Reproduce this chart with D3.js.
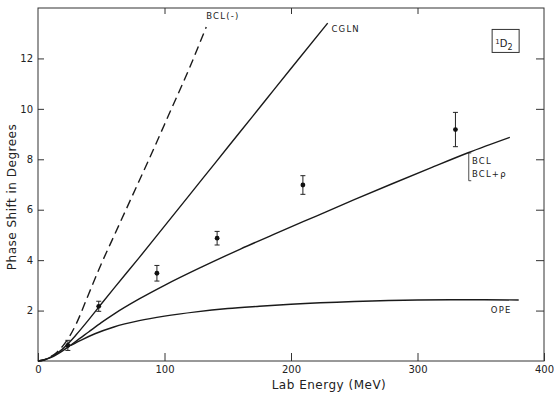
<!DOCTYPE html>
<html>
<head>
<meta charset="utf-8">
<script src="https://cdn.jsdelivr.net/npm/d3@7"></script>
<style>
  body { margin: 0; background: #fff; }
  svg { display: block; }
  text { font-family: "DejaVu Sans", sans-serif; fill: #222; }
  .axis path, .axis line { stroke: #333; stroke-width: 1; }
  .axis text { font-size: 10px; }
</style>
</head>
<body>
<svg id="chart"></svg>
<script>
var width = 554,
    height = 396;

// curves: lab energy (MeV) / phase shift (deg)
var bclMinusE = [0, 5, 10, 15, 20, 25, 30, 40, 50, 60, 75, 90, 105, 120, 133];
var bclMinusP = [0, 0.05, 0.17, 0.35, 0.62, 0.98, 1.45, 2.65, 3.85, 4.95, 6.6, 8.25, 9.95, 11.65, 13.25];

var cglnE = [0, 5, 10, 15, 20, 25, 30, 40, 50, 60, 80, 100, 120, 140, 160, 180, 200, 229];
var cglnP = [0, 0.05, 0.15, 0.3, 0.5, 0.75, 1.03, 1.63, 2.26, 2.88, 4.1, 5.35, 6.6, 7.85, 9.1, 10.35, 11.6, 13.4];

var bclE = [0, 5, 10, 15, 20, 25, 30, 40, 50, 60, 80, 100, 130, 160, 190, 220, 250, 280, 310, 340, 373];
var bclP = [0, 0.04, 0.13, 0.26, 0.42, 0.6, 0.78, 1.15, 1.52, 1.86, 2.46, 3.0, 3.74, 4.44, 5.1, 5.75, 6.4, 7.03, 7.65, 8.26, 8.87];

var opeE = [26, 35, 45, 60, 80, 100, 125, 150, 175, 200, 250, 300, 340, 380];
var opeP = [0.62, 0.85, 1.08, 1.35, 1.6, 1.78, 1.95, 2.08, 2.17, 2.25, 2.36, 2.42, 2.43, 2.42];

// measured points with errors
var expE = [23.6, 48, 94, 141.6, 209.4, 330];
var expP = [0.62, 2.17, 3.48, 4.87, 6.98, 9.18];
var expErr = [0.2, 0.2, 0.31, 0.27, 0.37, 0.68];

var xTicks = [0, 100, 200, 300, 400];
var yTicks = [2, 4, 6, 8, 10, 12];

var margin = {left: 38, right: 10, top: 8, bottom: 35};

var x = d3.scaleLinear().domain([0, 400]).range([margin.left, width - margin.right]);
var y = d3.scaleLinear().domain([0, 14]).range([height - margin.bottom, margin.top]);

var svg = d3.select('#chart')
            .attr('width', width)
            .attr('height', height);

// frame
svg.append('rect')
   .attr('x', x(0)).attr('y', y(14))
   .attr('width', x(400) - x(0)).attr('height', y(0) - y(14))
   .attr('fill', 'none').attr('stroke', '#333').attr('stroke-width', 1);

svg.append('g').attr('class', 'axis')
   .attr('transform', `translate(0,${y(0)})`)
   .call(d3.axisBottom(x).tickValues(xTicks).tickSize(-8).tickPadding(5).tickFormat(d3.format('d')))
   .call(g => g.select('.domain').remove());

svg.append('g').attr('class', 'axis')
   .attr('transform', `translate(0,${y(14)})`)
   .call(d3.axisTop(x).tickValues([100, 200, 300]).tickSize(-6).tickFormat(''))
   .call(g => g.select('.domain').remove());

svg.append('g').attr('class', 'axis')
   .attr('transform', `translate(${x(0)},0)`)
   .call(d3.axisLeft(y).tickValues(yTicks).tickSize(-6).tickPadding(5))
   .call(g => g.select('.domain').remove());

svg.append('g').attr('class', 'axis')
   .attr('transform', `translate(${x(400)},0)`)
   .call(d3.axisRight(y).tickValues(yTicks).tickSize(-8).tickFormat(''))
   .call(g => g.select('.domain').remove());

// axis titles
svg.append('text')
   .attr('x', (x(0) + x(400)) / 2 + 38).attr('y', 389)
   .attr('text-anchor', 'middle')
   .style('font-size', '12px').style('letter-spacing', '0.5px')
   .text('Lab Energy (MeV)');

svg.append('text')
   .attr('transform', 'translate(16,197) rotate(-90)')
   .attr('text-anchor', 'middle')
   .style('font-size', '12px').style('letter-spacing', '0.5px')
   .text('Phase Shift in Degrees');

// curves
var line = d3.line().x(d => x(d[0])).y(d => y(d[1])).curve(d3.curveMonotoneX);

var curves = [
  {e: bclMinusE, p: bclMinusP, dash: '9,5'},
  {e: cglnE, p: cglnP, dash: null},
  {e: bclE, p: bclP, dash: null},
  {e: opeE, p: opeP, dash: null}
];

svg.append('g').selectAll('path')
   .data(curves)
   .join('path')
   .attr('d', c => line(d3.zip(c.e, c.p)))
   .attr('fill', 'none')
   .attr('stroke', '#1a1a1a')
   .attr('stroke-width', 1.4)
   .attr('stroke-dasharray', c => c.dash);

// data points
var pts = svg.append('g').selectAll('g')
             .data(d3.range(expE.length))
             .join('g')
             .attr('stroke', '#222').attr('stroke-width', 1);

pts.append('line')
   .attr('x1', i => x(expE[i])).attr('x2', i => x(expE[i]))
   .attr('y1', i => y(expP[i] + expErr[i])).attr('y2', i => y(expP[i] - expErr[i]));
pts.append('line')
   .attr('x1', i => x(expE[i]) - 2.5).attr('x2', i => x(expE[i]) + 2.5)
   .attr('y1', i => y(expP[i] + expErr[i])).attr('y2', i => y(expP[i] + expErr[i]));
pts.append('line')
   .attr('x1', i => x(expE[i]) - 2.5).attr('x2', i => x(expE[i]) + 2.5)
   .attr('y1', i => y(expP[i] - expErr[i])).attr('y2', i => y(expP[i] - expErr[i]));
pts.append('circle')
   .attr('cx', i => x(expE[i])).attr('cy', i => y(expP[i]))
   .attr('r', 2.4).attr('fill', '#111').attr('stroke', 'none');

// curve labels
var lab = svg.append('g').style('font-size', '8.5px').style('letter-spacing', '1.2px');
lab.append('text').attr('x', x(133)).attr('y', y(13.55)).text('BCL(-)');
lab.append('text').attr('x', x(232)).attr('y', y(13.05)).text('CGLN');
lab.append('text').attr('x', x(358)).attr('y', y(1.9)).text('OPE');
lab.append('text').attr('x', x(343)).attr('y', y(7.8)).text('BCL');
lab.append('text').attr('x', x(343)).attr('y', y(7.3)).text('BCL+ρ');
lab.append('path')
   .attr('d', `M${x(342.5)},${y(8.25)} h-2.5 V${y(7.15)} h2.5`)
   .attr('fill', 'none').attr('stroke', '#222').attr('stroke-width', 0.8);

// 1D2 box
svg.append('rect')
   .attr('x', x(359)).attr('y', y(13.15))
   .attr('width', 27).attr('height', 23)
   .attr('fill', 'none').attr('stroke', '#333').attr('stroke-width', 1);
var st = svg.append('text').attr('x', x(361.5)).attr('y', y(12.45)).style('font-size', '10px');
st.append('tspan').attr('dy', '-3').style('font-size', '7px').text('1');
st.append('tspan').attr('dy', '3').text('D');
st.append('tspan').attr('dy', '3').style('font-size', '8px').text('2');
</script>
</body>
</html>
